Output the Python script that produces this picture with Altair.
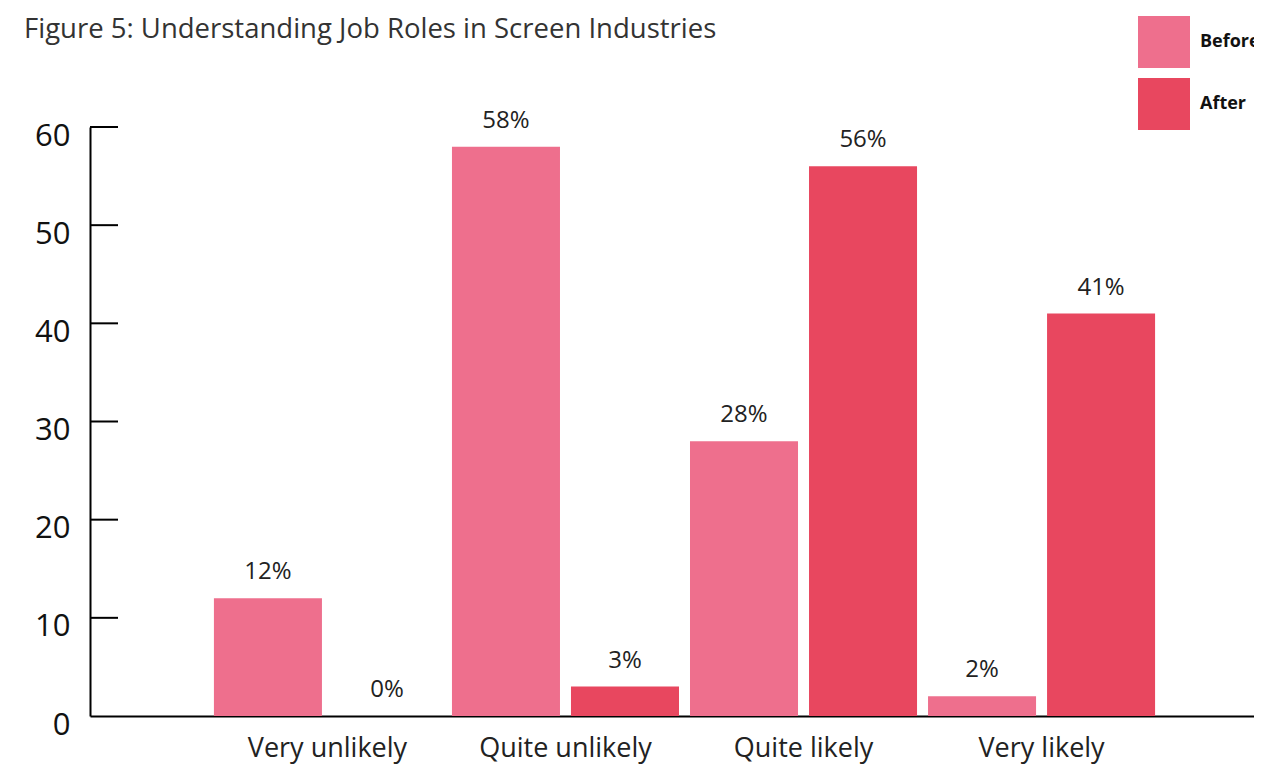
import altair as alt
import pandas as pd

categories = ["Very unlikely", "Quite unlikely", "Quite likely", "Very likely"]
series = ["Before", "After"]
before_vals = [12, 58, 28, 2]
after_vals = [0, 3, 56, 41]
y_ticks = [10, 20, 30, 40, 50, 60]
colors = ["#EE6F8D", "#E8475F"]

rows = []
for c, b, a in zip(categories, before_vals, after_vals):
    rows.append({"cat": c, "series": "Before", "value": b, "label": f"{b}%"})
    rows.append({"cat": c, "series": "After", "value": a, "label": f"{a}%"})
df = pd.DataFrame(rows)
ticks_df = pd.DataFrame({"v": y_ticks})

FONT = "Open Sans"

xscale = alt.Scale(paddingInner=0, paddingOuter=0.445, align=0.559)
yscale = alt.Scale(domain=[0, 60], nice=False, zero=True)
xoff = alt.XOffset("series:N", sort=series,
                   scale=alt.Scale(paddingInner=0.0924, paddingOuter=0.0462))

base = alt.Chart(df)

bars = base.mark_bar().encode(
    x=alt.X("cat:N", sort=categories, scale=xscale, title=None,
            axis=alt.Axis(labelAngle=0, labelFontSize=27, labelFont=FONT,
                          labelColor="#222222", labelPadding=19, ticks=False,
                          domainColor="#000000", domainWidth=2, grid=False)),
    xOffset=xoff,
    y=alt.Y("value:Q", scale=yscale, title=None,
            axis=alt.Axis(values=[0, 10, 20, 30, 40, 50, 60], labelFontSize=31,
                          labelFont=FONT, labelColor="#111111", ticks=False,
                          labelPadding=20, labelOffset=9, domainColor="#000000",
                          domainWidth=2, grid=False)),
    color=alt.Color("series:N", sort=series,
                    scale=alt.Scale(domain=series, range=colors),
                    legend=alt.Legend(title=None, orient="none", legendX=1048,
                                      legendY=-111, symbolType="square",
                                      symbolSize=2704, symbolStrokeWidth=0,
                                      symbolOpacity=1, labelFontSize=18,
                                      labelFontWeight="bold", labelFont=FONT,
                                      labelColor="#111111", labelOffset=10,
                                      rowPadding=10, padding=0)),
)

texts = base.mark_text(baseline="alphabetic", dy=-19, fontSize=24, font=FONT,
                       color="#222222").encode(
    x=alt.X("cat:N", sort=categories, scale=xscale),
    xOffset=xoff,
    y=alt.Y("value:Q", scale=yscale),
    text="label:N",
)

tick_rules = alt.Chart(ticks_df).mark_rule(color="#000000", strokeWidth=2).encode(
    y=alt.Y("v:Q", scale=yscale),
    x=alt.value(0),
    x2=alt.value(28),
)

chart = alt.layer(bars, texts, tick_rules).properties(
    width=1164,
    height=589,
    title=alt.TitleParams("Figure 5: Understanding Job Roles in Screen Industries",
                          anchor="start", frame="group", fontSize=27.5,
                          font=FONT, fontWeight="normal", color="#333333",
                          dx=-66, dy=37, offset=10),
    autosize=alt.AutoSizeParams(type="none"),
    padding={"left": 82, "top": 119, "right": 0, "bottom": 49},
).configure_view(stroke=None)

chart.save("out.html", embed_options={"renderer": "svg", "actions": False})
